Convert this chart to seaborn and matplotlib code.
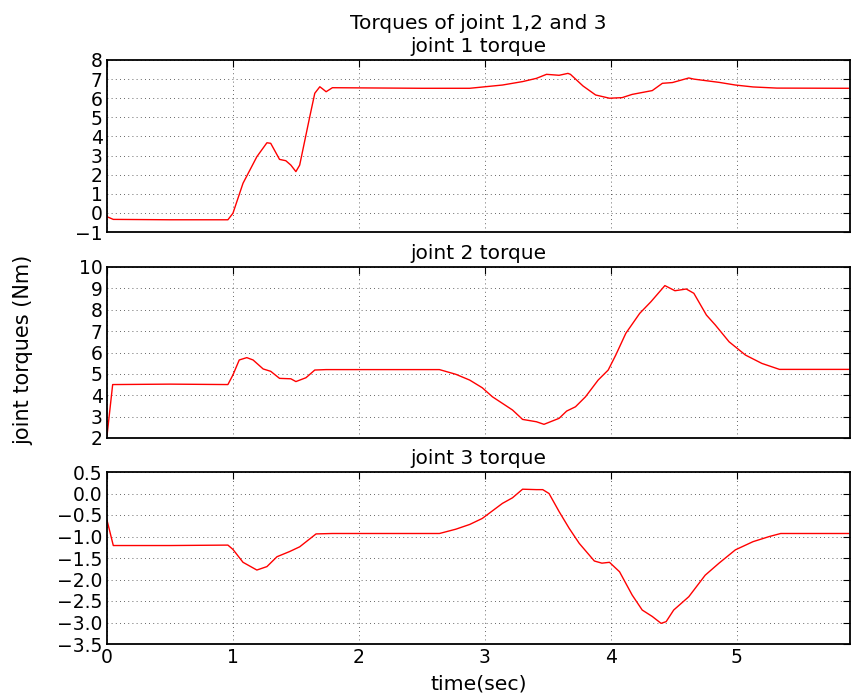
import numpy as np
import pandas as pd
import matplotlib
matplotlib.use("Agg")
import matplotlib.pyplot as plt
import seaborn as sns

# joint 1 torque
t1 = [0.0, 0.05, 0.5, 0.96, 1.0, 1.08, 1.19, 1.27, 1.30, 1.37, 1.42, 1.46, 1.50, 1.53, 1.61, 1.65,
      1.69, 1.71, 1.74, 1.79, 2.5, 2.88, 3.14, 3.30, 3.41, 3.49, 3.55, 3.59, 3.66, 3.68, 3.78, 3.88,
      3.99, 4.09, 4.17, 4.25, 4.33, 4.41, 4.49, 4.62, 4.66, 4.86, 4.99, 5.13, 5.32, 5.89]
v1 = [-0.2, -0.34, -0.36, -0.36, -0.02, 1.55, 2.94, 3.67, 3.64, 2.8, 2.73, 2.5, 2.16, 2.5, 5.03, 6.26,
      6.6, 6.5, 6.34, 6.55, 6.52, 6.52, 6.69, 6.87, 7.04, 7.25, 7.22, 7.2, 7.3, 7.25, 6.64, 6.17,
      6.0, 6.03, 6.2, 6.3, 6.4, 6.78, 6.82, 7.06, 7.0, 6.83, 6.69, 6.59, 6.53, 6.52]

# joint 2 torque
t2 = [0.0, 0.045, 0.5, 0.96, 1.0, 1.05, 1.11, 1.16, 1.24, 1.30, 1.37, 1.46, 1.50, 1.58, 1.65, 1.74,
      2.64, 2.77, 2.88, 2.98, 3.06, 3.22, 3.30, 3.41, 3.47, 3.59, 3.65, 3.72, 3.80, 3.90, 3.98, 4.04,
      4.12, 4.23, 4.32, 4.43, 4.51, 4.60, 4.66, 4.76, 4.83, 4.94, 5.07, 5.20, 5.34, 5.89]
v2 = [2.1, 4.5, 4.52, 4.5, 4.95, 5.65, 5.76, 5.65, 5.23, 5.12, 4.79, 4.77, 4.64, 4.82, 5.18, 5.2,
      5.2, 4.98, 4.71, 4.35, 3.93, 3.31, 2.87, 2.76, 2.64, 2.92, 3.26, 3.46, 3.93, 4.71, 5.18, 5.88,
      6.9, 7.83, 8.38, 9.13, 8.89, 8.97, 8.77, 7.75, 7.29, 6.5, 5.88, 5.49, 5.21, 5.21]

# joint 3 torque
t3 = [0.0, 0.05, 0.5, 0.96, 1.0, 1.08, 1.19, 1.27, 1.35, 1.45, 1.53, 1.66, 1.79, 2.64, 2.77, 2.88,
      2.98, 3.14, 3.22, 3.30, 3.41, 3.46, 3.51, 3.59, 3.67, 3.75, 3.87, 3.93, 3.99, 4.07, 4.17, 4.25,
      4.33, 4.40, 4.44, 4.50, 4.62, 4.75, 4.86, 4.99, 5.13, 5.26, 5.35, 5.89]
v3 = [-0.62, -1.21, -1.21, -1.2, -1.30, -1.6, -1.78, -1.70, -1.47, -1.35, -1.24, -0.94, -0.93, -0.93, -0.83, -0.72,
      -0.58, -0.23, -0.10, 0.10, 0.09, 0.09, 0.0, -0.42, -0.81, -1.16, -1.57, -1.62, -1.6, -1.82, -2.36, -2.71,
      -2.86, -3.02, -2.98, -2.71, -2.40, -1.9, -1.62, -1.31, -1.12, -1.0, -0.93, -0.93]

titles = ["Torques of joint 1,2 and 3\njoint 1 torque", "joint 2 torque", "joint 3 torque"]
ylims = [(-1, 8), (2, 10), (-3.5, 0.5)]
yticks = [np.arange(-1, 8.01, 1), np.arange(2, 10.01, 1), np.arange(-3.5, 0.51, 0.5)]
xticks = [0, 1, 2, 3, 4, 5]

sns.set_style("white")
plt.rcParams['font.family'] = ['DejaVu Sans']
plt.rcParams['text.color'] = 'black'
plt.rcParams['axes.labelcolor'] = 'black'

fig = plt.figure(figsize=(8.51, 7.0), dpi=100)
left, right = 107 / 851, 850 / 851
boxes = [(60, 232), (267, 438), (472, 644)]
axes = []
for (top, bot) in boxes:
    ax = fig.add_axes([left, 1 - bot / 700, right - left, (bot - top) / 700])
    axes.append(ax)

data = [(t1, v1), (t2, v2), (t3, v3)]
for i, ax in enumerate(axes):
    t, v = data[i]
    df = pd.DataFrame({"t": t, "v": v})
    sns.lineplot(data=df, x="t", y="v", ax=ax, color="red", linewidth=1.0, sort=False, estimator=None)
    ax.set_xlim(0, 5.9)
    ax.set_ylim(*ylims[i])
    ax.set_yticks(yticks[i])
    if i == 2:
        ax.set_yticklabels([f"{y:.1f}".replace("-", "\u2212") for y in yticks[i]])
    ax.set_xticks(xticks)
    ax.set_title(titles[i], fontsize=14.5, pad=5.5, linespacing=1.3, color="black")
    ax.grid(True, color="black", linestyle=(0, (1, 4)), linewidth=0.6, alpha=0.8)
    ax.tick_params(direction="in", length=5, width=0.8, top=True, right=True,
                   labelsize=13.5, colors="black", labelcolor="black", pad=3)
    for s in ax.spines.values():
        s.set_color("black")
        s.set_linewidth(1.3)
    ax.set_xlabel("")
    ax.set_ylabel("")
    if i < 2:
        ax.tick_params(labelbottom=False)

axes[2].set_xlabel("time(sec)", fontsize=14.7, labelpad=5, color="black")
fig.text(23 / 851, 1 - 350 / 700, "joint torques (Nm)", rotation=90, ha="center", va="center",
         fontsize=15, color="black")

fig.savefig("out.png", dpi=100)
